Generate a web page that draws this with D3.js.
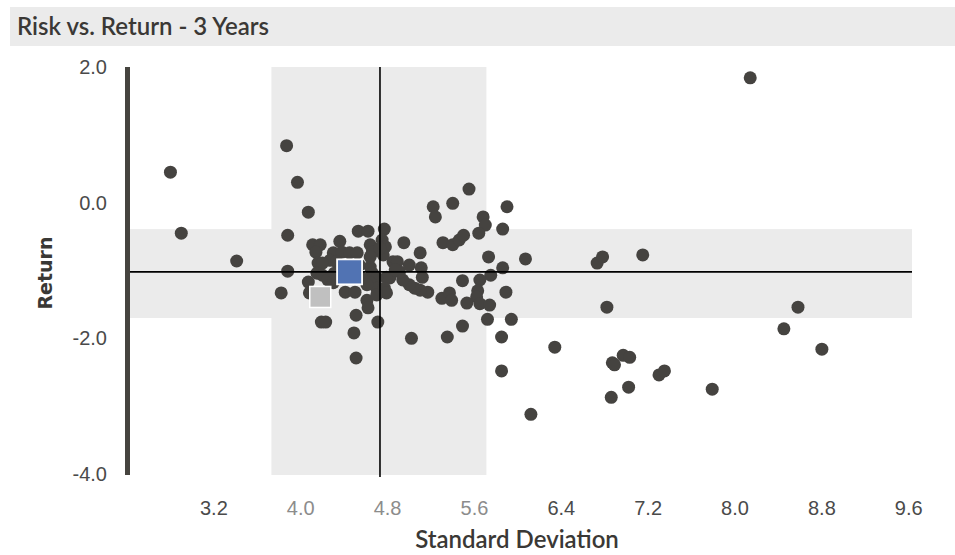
<!DOCTYPE html>
<html>
<head>
<meta charset="utf-8">
<script src="https://cdn.jsdelivr.net/npm/d3@7"></script>
<style>
  html, body { margin: 0; padding: 0; background: #fff; }
  svg { display: block; }
</style>
</head>
<body>
<svg id="chart" width="955" height="555"></svg>
<script>
// ---- data ----
const chartTitle = "Risk vs. Return - 3 Years";
const xTitle = "Standard Deviation";
const yTitle = "Return";
const xTickValues = [3.2, 4.0, 4.8, 5.6, 6.4, 7.2, 8.0, 8.8, 9.6];
const yTickValues = [2.0, 0.0, -2.0, -4.0];

// peer funds: standard deviation and return
const peerStdDev = [
  2.80, 2.90, 3.41, 3.87, 3.97, 4.07, 3.88, 3.88, 3.82, 4.07,
  4.08, 4.11, 4.18, 4.14, 4.36, 4.53, 4.62, 4.77, 4.75, 4.95,
  5.10, 4.19, 4.23, 4.51, 4.61, 4.62, 4.71, 4.49, 4.51, 5.02,
  5.35, 5.49, 5.72, 5.85, 5.85, 5.94, 5.55, 5.40, 5.22, 5.24,
  5.90, 5.68, 5.70, 5.64, 5.86, 5.31, 5.40, 5.46, 5.50, 5.73,
  5.86, 5.75, 5.65, 5.49, 5.63, 5.62, 5.53, 5.65, 5.74, 5.89,
  5.30, 5.37, 5.39, 5.17, 5.10, 5.05, 5.00, 4.94, 4.82, 4.91,
  5.00, 5.11, 5.12, 4.85, 4.89, 4.79, 4.78, 4.76, 4.64, 4.66,
  4.73, 4.30, 4.38, 4.45, 4.52, 4.27, 4.33, 4.16, 4.20, 4.15,
  4.20, 4.25, 4.30, 4.41, 4.50, 4.64, 4.66, 4.70, 4.64, 4.70,
  4.70, 4.61, 4.77, 4.79, 4.87, 4.31, 4.64, 4.54, 4.36, 4.56,
  6.07, 6.73, 6.78, 7.15, 6.82, 6.34, 6.12, 6.97, 7.03, 6.87,
  6.89, 7.30, 7.35, 7.02, 6.86, 7.79, 8.14, 8.45, 8.58, 8.80
];
const peerReturn = [
  0.45, -0.45, -0.86, 0.84, 0.30, -0.14, -0.48, -1.01, -1.33, -1.17,
  -1.33, -0.62, -0.62, -0.73, -0.57, -0.42, -0.42, -0.39, -0.55, -0.59,
  -0.74, -1.76, -1.76, -1.66, -1.44, -1.55, -1.76, -1.92, -2.29, -2.00,
  -1.98, -1.82, -1.72, -1.98, -2.48, -1.72, 0.20, -0.01, -0.06, -0.21,
  -0.06, -0.21, -0.33, -0.45, -0.39, -0.59, -0.62, -0.55, -0.48, -0.80,
  -0.96, -1.07, -1.14, -1.15, -1.30, -1.39, -1.48, -1.49, -1.51, -1.32,
  -1.41, -1.33, -1.44, -1.32, -1.29, -1.26, -1.21, -1.14, -1.11, -1.02,
  -0.92, -0.96, -1.10, -0.87, -0.87, -1.10, -0.65, -0.77, -0.62, -0.73,
  -0.67, -0.74, -0.73, -0.74, -0.74, -0.85, -0.87, -0.89, -0.89, -1.04,
  -1.07, -1.14, -1.18, -1.32, -1.32, -0.95, -1.04, -1.11, -1.18, -1.26,
  -1.36, -1.21, -1.26, -1.33, -0.99, -1.04, -0.80, -0.92, -1.00, -1.11,
  -0.83, -0.89, -0.80, -0.77, -1.54, -2.13, -3.12, -2.25, -2.28, -2.36,
  -2.39, -2.54, -2.48, -2.72, -2.87, -2.75, 1.84, -1.86, -1.54, -2.16
];

// highlighted fund (blue) and benchmark (grey)
const fundPoint = [4.45, -1.02];
const benchPoint = [4.18, -1.39];

// peer average and one-standard-deviation ranges
const avgStdDev = 4.73;
const avgReturn = -1.02;
const stdDevBand = [3.73, 5.71];
const returnBand = [-1.70, -0.39];

// ---- drawing ----
const svg = d3.select("#chart");
const x = d3.scaleLinear().domain([2.4, 9.63]).range([127, 912]);
const y = d3.scaleLinear().domain([-4, 2]).range([474, 67]);

const dotColor = "#454340";
const fmt = d => d.toFixed(1);

// title bar
svg.append("rect").attr("x", 10).attr("y", 7).attr("width", 945).attr("height", 39)
  .attr("fill", "#ebebeb");
svg.append("text").attr("x", 17).attr("y", 35)
  .attr("font-family", "Lato, 'Open Sans', sans-serif").attr("font-size", 24)
  .attr("font-weight", 600)
  .attr("fill", "#3a3835").text(chartTitle);

// bands
svg.append("rect")
  .attr("x", x(stdDevBand[0])).attr("y", y(2))
  .attr("width", x(stdDevBand[1]) - x(stdDevBand[0]))
  .attr("height", y(-4) - y(2) + 1)
  .attr("fill", "#ebebeb");
svg.append("rect")
  .attr("x", x(2.4)).attr("y", y(returnBand[1]))
  .attr("width", x(9.63) - x(2.4))
  .attr("height", y(returnBand[0]) - y(returnBand[1]))
  .attr("fill", "#ebebeb");

// peer dots
const peers = peerStdDev.map((v, i) => ({ sd: v, ret: peerReturn[i] }));
svg.append("g").selectAll("circle").data(peers).join("circle")
  .attr("cx", d => x(d.sd)).attr("cy", d => y(d.ret)).attr("r", 6.5)
  .attr("fill", dotColor);

// crosshair lines
svg.append("line")
  .attr("x1", x(avgStdDev)).attr("x2", x(avgStdDev))
  .attr("y1", y(2)).attr("y2", y(-4) + 3)
  .attr("stroke", "#000").attr("stroke-width", 1.6);
svg.append("line")
  .attr("x1", x(2.4)).attr("x2", x(9.63))
  .attr("y1", y(avgReturn)).attr("y2", y(avgReturn))
  .attr("stroke", "#000").attr("stroke-width", 1.6);

// benchmark and fund squares
const bs = 21;
svg.append("rect")
  .attr("x", x(benchPoint[0]) - bs / 2).attr("y", y(benchPoint[1]) - bs / 2)
  .attr("width", bs).attr("height", bs)
  .attr("fill", "#c0c0c0").attr("stroke", "#fff").attr("stroke-width", 1.5);
const fs = 25;
svg.append("rect")
  .attr("x", x(fundPoint[0]) - fs / 2).attr("y", y(fundPoint[1]) - fs / 2)
  .attr("width", fs).attr("height", fs)
  .attr("fill", "#5173b3").attr("stroke", "#fff").attr("stroke-width", 1.8);

// y axis line
svg.append("line")
  .attr("x1", 127.5).attr("x2", 127.5)
  .attr("y1", y(2)).attr("y2", y(-4) + 1)
  .attr("stroke", "#46443f").attr("stroke-width", 5);

// y tick labels
svg.append("g").selectAll("text").data(yTickValues).join("text")
  .attr("x", 107).attr("y", d => y(d)).attr("dy", "0.35em")
  .attr("text-anchor", "end")
  .attr("font-family", "'Liberation Sans', Arial, sans-serif").attr("font-size", 20)
  .attr("fill", "#4a4a4a")
  .text(fmt);

// x tick labels
svg.append("g").selectAll("text").data(xTickValues).join("text")
  .attr("x", d => x(d)).attr("y", 508).attr("dy", "0.35em")
  .attr("text-anchor", "middle")
  .attr("font-family", "'Liberation Sans', Arial, sans-serif").attr("font-size", 20)
  .attr("fill", d => (d >= stdDevBand[0] && d <= stdDevBand[1]) ? "#8c8c8c" : "#4a4a4a")
  .text(fmt);

// axis titles
svg.append("text").attr("x", 517).attr("y", 548)
  .attr("text-anchor", "middle")
  .attr("font-family", "Lato, 'Open Sans', sans-serif").attr("font-size", 24)
  .attr("font-weight", 600)
  .attr("fill", "#3a3835").text(xTitle);
svg.append("text")
  .attr("transform", "translate(52,273) rotate(-90)")
  .attr("text-anchor", "middle")
  .attr("font-family", "'DejaVu Sans', Verdana, sans-serif").attr("font-size", 19)
  .attr("font-weight", "bold")
  .attr("fill", "#3a3835").text(yTitle);
</script>
</body>
</html>
